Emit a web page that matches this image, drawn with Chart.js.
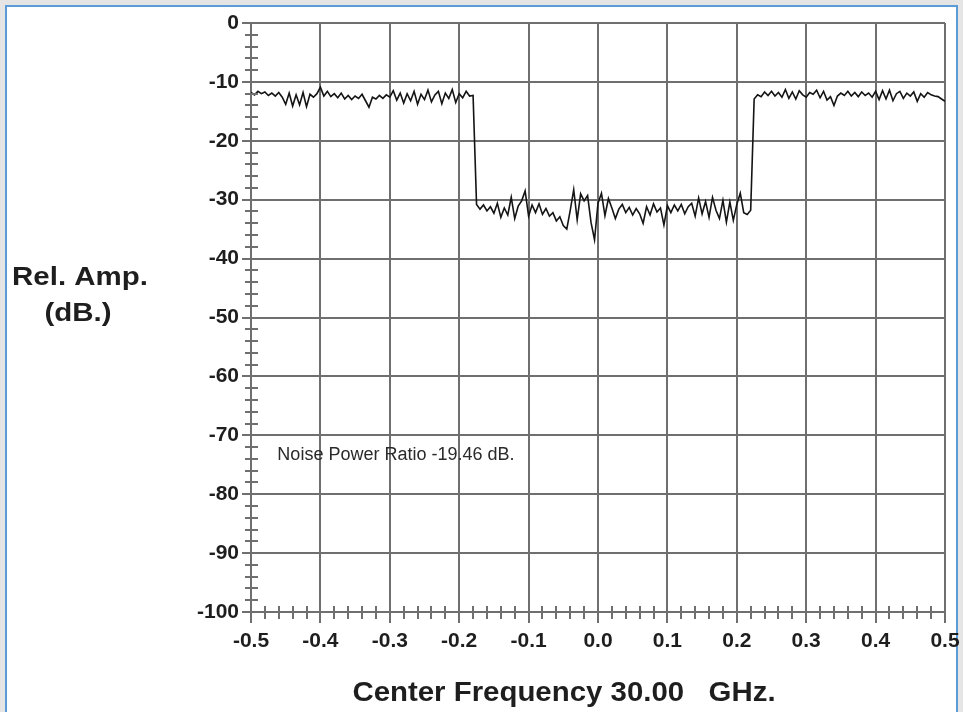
<!DOCTYPE html>
<html>
<head>
<meta charset="utf-8">
<title>Noise Power Ratio</title>
<script src="https://cdn.jsdelivr.net/npm/chart.js@4/dist/chart.umd.min.js"></script>
<style>
  html, body { margin: 0; padding: 0; }
  body { width: 963px; height: 712px; background: #e5e5e5; position: relative; overflow: hidden; }
  #frame { position: absolute; left: 5px; top: 5px; width: 949px; height: 720px;
           border: 2px solid #5b9bd6; background: #fff; }
  #wrap { position: absolute; left: 0; top: 0; width: 963px; height: 712px; }
</style>
</head>
<body>
<div id="frame"></div>
<div id="wrap"><canvas id="nprChart" width="963" height="712"></canvas></div>
<script>
// frequency offset from centre (GHz), one sample every 0.005
const freqs = [
  -0.500,-0.495,-0.490,-0.485,-0.480,-0.475,-0.470,-0.465,-0.460,-0.455,
  -0.450,-0.445,-0.440,-0.435,-0.430,-0.425,-0.420,-0.415,-0.410,-0.405,
  -0.400,-0.395,-0.390,-0.385,-0.380,-0.375,-0.370,-0.365,-0.360,-0.355,
  -0.350,-0.345,-0.340,-0.335,-0.330,-0.325,-0.320,-0.315,-0.310,-0.305,
  -0.300,-0.295,-0.290,-0.285,-0.280,-0.275,-0.270,-0.265,-0.260,-0.255,
  -0.250,-0.245,-0.240,-0.235,-0.230,-0.225,-0.220,-0.215,-0.210,-0.205,
  -0.200,-0.195,-0.190,-0.185,-0.180,-0.175,-0.170,-0.165,-0.160,-0.155,
  -0.150,-0.145,-0.140,-0.135,-0.130,-0.125,-0.120,-0.115,-0.110,-0.105,
  -0.100,-0.095,-0.090,-0.085,-0.080,-0.075,-0.070,-0.065,-0.060,-0.055,
  -0.050,-0.045,-0.040,-0.035,-0.030,-0.025,-0.020,-0.015,-0.010,-0.005,
   0.000, 0.005, 0.010, 0.015, 0.020, 0.025, 0.030, 0.035, 0.040, 0.045,
   0.050, 0.055, 0.060, 0.065, 0.070, 0.075, 0.080, 0.085, 0.090, 0.095,
   0.100, 0.105, 0.110, 0.115, 0.120, 0.125, 0.130, 0.135, 0.140, 0.145,
   0.150, 0.155, 0.160, 0.165, 0.170, 0.175, 0.180, 0.185, 0.190, 0.195,
   0.200, 0.205, 0.210, 0.215, 0.220, 0.225, 0.230, 0.235, 0.240, 0.245,
   0.250, 0.255, 0.260, 0.265, 0.270, 0.275, 0.280, 0.285, 0.290, 0.295,
   0.300, 0.305, 0.310, 0.315, 0.320, 0.325, 0.330, 0.335, 0.340, 0.345,
   0.350, 0.355, 0.360, 0.365, 0.370, 0.375, 0.380, 0.385, 0.390, 0.395,
   0.400, 0.405, 0.410, 0.415, 0.420, 0.425, 0.430, 0.435, 0.440, 0.445,
   0.450, 0.455, 0.460, 0.465, 0.470, 0.475, 0.480, 0.485, 0.490, 0.495,
   0.500
];

// measured relative amplitude (dB) at each frequency
const relAmp = [
  -11.8,-12.2,-11.6,-12.0,-11.7,-12.3,-11.9,-12.4,-11.8,-12.6,
  -13.8,-11.9,-14.1,-12.2,-13.9,-11.8,-14.2,-12.1,-12.6,-12.0,
  -10.9,-12.4,-11.6,-12.5,-12.0,-12.7,-11.9,-12.9,-12.3,-13.0,
  -12.4,-12.8,-12.1,-13.2,-14.3,-12.6,-12.9,-12.3,-12.8,-12.2,
  -12.6,-11.5,-13.1,-11.9,-13.6,-12.0,-13.2,-11.6,-13.8,-12.1,
  -13.0,-11.4,-13.4,-12.2,-11.6,-13.7,-11.9,-12.8,-11.3,-13.5,
  -12.0,-12.7,-11.6,-12.4,-12.3,-30.8,-31.6,-30.9,-31.9,-31.2,
  -32.3,-30.6,-33.0,-31.4,-32.6,-29.6,-33.2,-31.1,-30.2,-28.5,
  -32.8,-30.9,-32.2,-30.7,-32.5,-31.5,-32.8,-32.2,-33.6,-32.9,
  -34.4,-35.0,-31.8,-28.3,-33.4,-29.0,-30.2,-29.3,-33.9,-36.8,
  -30.6,-28.9,-32.7,-29.8,-31.4,-33.2,-31.6,-30.8,-32.2,-31.3,
  -32.6,-31.5,-32.4,-34.0,-31.2,-32.6,-30.7,-32.1,-31.4,-34.3,
  -31.0,-32.2,-30.9,-31.9,-30.8,-32.4,-31.2,-30.6,-32.8,-29.7,
  -32.4,-30.3,-33.0,-29.6,-31.8,-33.2,-30.1,-33.8,-30.4,-33.5,
  -30.8,-28.9,-32.2,-32.5,-31.8,-12.9,-12.2,-12.5,-11.7,-12.3,
  -11.6,-12.4,-11.8,-12.6,-11.3,-12.8,-11.7,-12.9,-11.5,-12.2,
  -12.6,-11.8,-12.1,-11.4,-12.7,-11.6,-13.1,-12.5,-14.0,-12.4,
  -11.9,-12.3,-11.6,-12.4,-11.8,-12.5,-11.7,-12.3,-11.9,-12.6,
  -11.6,-13.0,-11.5,-12.9,-11.4,-13.2,-12.0,-11.6,-12.8,-11.9,
  -12.4,-11.7,-13.3,-12.0,-12.6,-11.8,-12.2,-12.4,-12.5,-12.9,
  -13.3
];

const freqTicks = [-0.5, -0.4, -0.3, -0.2, -0.1, 0.0, 0.1, 0.2, 0.3, 0.4, 0.5];
const ampTicks = [0, -10, -20, -30, -40, -50, -60, -70, -80, -90, -100];

const yTitle = ["Rel. Amp.", "(dB.)"];
const xTitle = "Center Frequency 30.00   GHz.";
const nprNote = "Noise Power Ratio -19.46 dB.";

const gridCol = "#6f6f6f";
const textCol = "#1e1e1e";
const fontFam = "'Liberation Sans', Arial, sans-serif";

// small cross ticks along both axes plus the hand-placed labels
const extras = {
  id: "extras",
  afterDraw(chart) {
    const c = chart.ctx;
    const xs = chart.scales.x, ys = chart.scales.y;
    const area = chart.chartArea;
    c.save();
    c.strokeStyle = gridCol;
    c.lineWidth = 2;
    c.beginPath();
    for (let v = -98; v < 0; v += 2) {
      if (v % 10 === 0) continue;
      const py = Math.round(ys.getPixelForValue(v));
      c.moveTo(area.left - 6, py);
      c.lineTo(area.left + 7, py);
    }
    for (let k = -24; k < 25; k++) {
      if (k % 5 === 0) continue;
      const px = Math.round(xs.getPixelForValue(k * 0.02));
      c.moveTo(px, area.bottom - 6);
      c.lineTo(px, area.bottom + 7);
    }
    c.stroke();

    c.fillStyle = textCol;
    c.textAlign = "center";
    c.textBaseline = "middle";

    // y title, a little wide like the original lettering
    c.font = "bold 25px " + fontFam;
    c.save();
    c.translate(80, 278);
    c.scale(1.18, 1);
    c.fillText(yTitle[0], 0, 0);
    c.restore();
    c.save();
    c.translate(78, 314);
    c.scale(1.18, 1);
    c.fillText(yTitle[1], 0, 0);
    c.restore();

    // x title
    c.font = "bold 28px " + fontFam;
    c.save();
    c.translate(564, 693);
    c.scale(1.05, 1);
    c.fillText(xTitle, 0, 0);
    c.restore();

    // note inside the plot
    c.font = "18px " + fontFam;
    c.fillStyle = "#2a2a2a";
    c.textAlign = "left";
    c.fillText(nprNote, xs.getPixelForValue(-0.462), ys.getPixelForValue(-73.4));
    c.restore();
  }
};

new Chart(document.getElementById("nprChart"), {
  type: "scatter",
  data: {
    datasets: [{
      data: freqs.map((f, i) => ({ x: f, y: relAmp[i] })),
      showLine: true,
      borderColor: "#141414",
      borderWidth: 1.6,
      pointRadius: 0,
      tension: 0
    }]
  },
  options: {
    responsive: false,
    animation: false,
    events: [],
    layout: { padding: { left: 0, top: 23, right: 18, bottom: 0 } },
    plugins: { legend: { display: false }, tooltip: { enabled: false } },
    scales: {
      x: {
        type: "linear",
        min: -0.5,
        max: 0.5,
        afterBuildTicks: (s) => { s.ticks = freqTicks.map(v => ({ value: v })); },
        afterFit: (s) => { s.height = 100; s.paddingLeft = 0; s.paddingRight = 0; },
        grid: { color: gridCol, lineWidth: 2, tickLength: 11, tickColor: gridCol },
        border: { color: gridCol, width: 2 },
        ticks: {
          padding: 6,
          maxRotation: 0,
          color: textCol,
          font: { family: fontFam, size: 21, weight: "bold" },
          callback: (v) => v.toFixed(1)
        }
      },
      y: {
        min: -100,
        max: 0,
        afterBuildTicks: (s) => { s.ticks = ampTicks.map(v => ({ value: v })); },
        afterFit: (s) => { s.width = 251; s.paddingTop = 0; s.paddingBottom = 0; },
        grid: { color: gridCol, lineWidth: 2, tickLength: 9, tickColor: gridCol },
        border: { color: gridCol, width: 2 },
        ticks: {
          padding: 3,
          color: textCol,
          font: { family: fontFam, size: 21, weight: "bold" },
          callback: (v) => String(v)
        }
      }
    }
  },
  plugins: [extras]
});
</script>
</body>
</html>
